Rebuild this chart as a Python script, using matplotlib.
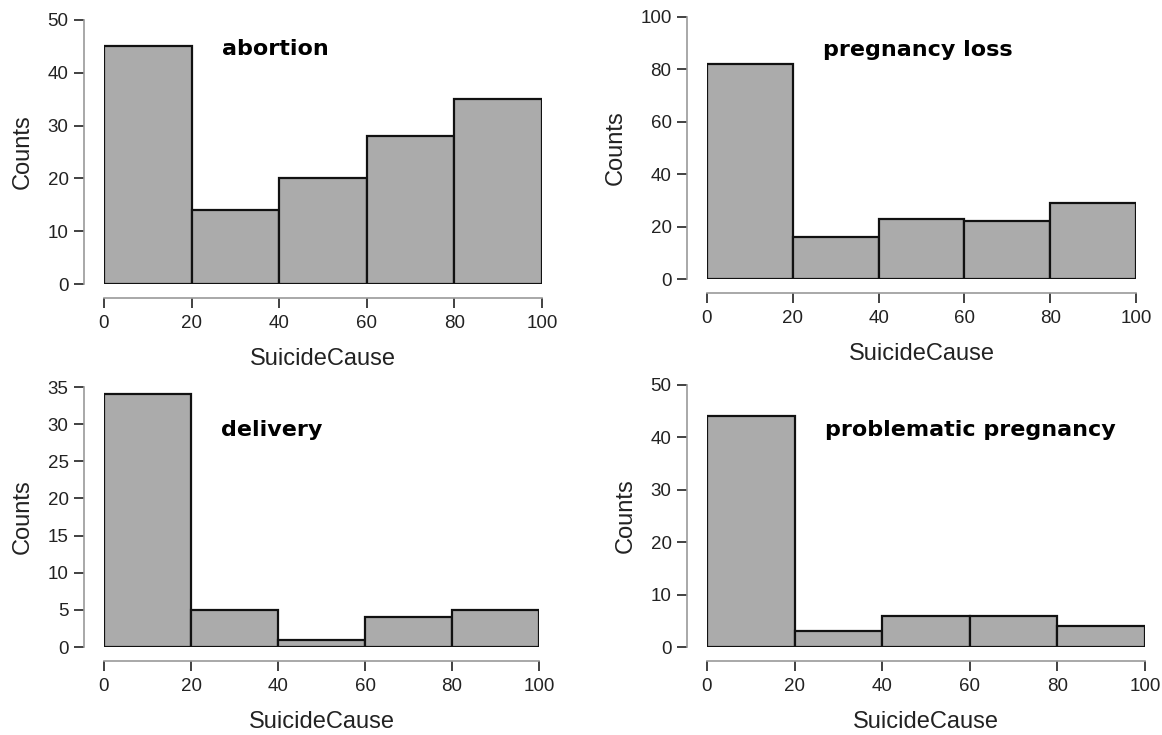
import numpy as np
import matplotlib
matplotlib.use('Agg')
import matplotlib.pyplot as plt

# bin edges shared by all four histograms
edges = [0, 20, 40, 60, 80, 100]

titles = ['abortion', 'pregnancy loss', 'delivery', 'problematic pregnancy']
abortion = [45, 14, 20, 28, 35]
pregnancy_loss = [82, 16, 23, 22, 29]
delivery = [34, 5, 1, 4, 5]
problematic = [44, 3, 6, 6, 4]
counts = [abortion, pregnancy_loss, delivery, problematic]

ymax = [50, 100, 35, 50]
ystep = [10, 20, 5, 10]
# title anchor (data coords)
title_y = [44.5, 87.4, 29.2, 41.4]

plt.rcParams['font.family'] = ['Liberation Sans', 'DejaVu Sans']

fig = plt.figure(figsize=(11.62, 7.35), dpi=100)

# [left, bottom, width, height] of the plotting region in figure fraction
rects = [
    [0.0895, 0.6136, 0.3769, 0.3592],
    [0.6084, 0.6204, 0.3692, 0.3565],
    [0.0895, 0.1197, 0.3744, 0.3537],
    [0.6084, 0.1197, 0.3769, 0.3565],
]

for i in range(4):
    ax = fig.add_axes(rects[i])
    left = edges[:-1]
    widths = np.diff(edges)
    ax.bar(left, counts[i], width=widths, align='edge', color='#ababab',
           edgecolor='#111111', linewidth=1.6)

    ax.set_xlim(0, 100)
    ax.set_ylim(0, ymax[i])
    ax.set_xticks(edges)
    ax.set_yticks(np.arange(0, ymax[i] + 1, ystep[i]))

    for s in ['top', 'right']:
        ax.spines[s].set_visible(False)
    ax.spines['left'].set_position(('outward', 14.5))
    ax.spines['bottom'].set_position(('outward', 10))
    ax.spines['left'].set_bounds(0, ymax[i])
    ax.spines['bottom'].set_bounds(0, 100)
    for s in ['left', 'bottom']:
        ax.spines[s].set_color('#9a9a9a')
        ax.spines[s].set_linewidth(1.2)

    ax.tick_params(axis='both', colors='#333333', labelcolor='#222222',
                   labelsize=13.5, length=7, width=1.3)
    ax.tick_params(axis='x', pad=5)
    ax.tick_params(axis='y', pad=4)

    ax.set_xlabel('SuicideCause', fontsize=17, color='#222222', labelpad=12)
    ax.set_ylabel('Counts', fontsize=17, color='#222222', labelpad=10)

    ax.text(27, title_y[i], titles[i], fontsize=16, fontweight='bold',
            family='DejaVu Sans', ha='left', va='center', color='black')

fig.savefig('out.png', dpi=100)
